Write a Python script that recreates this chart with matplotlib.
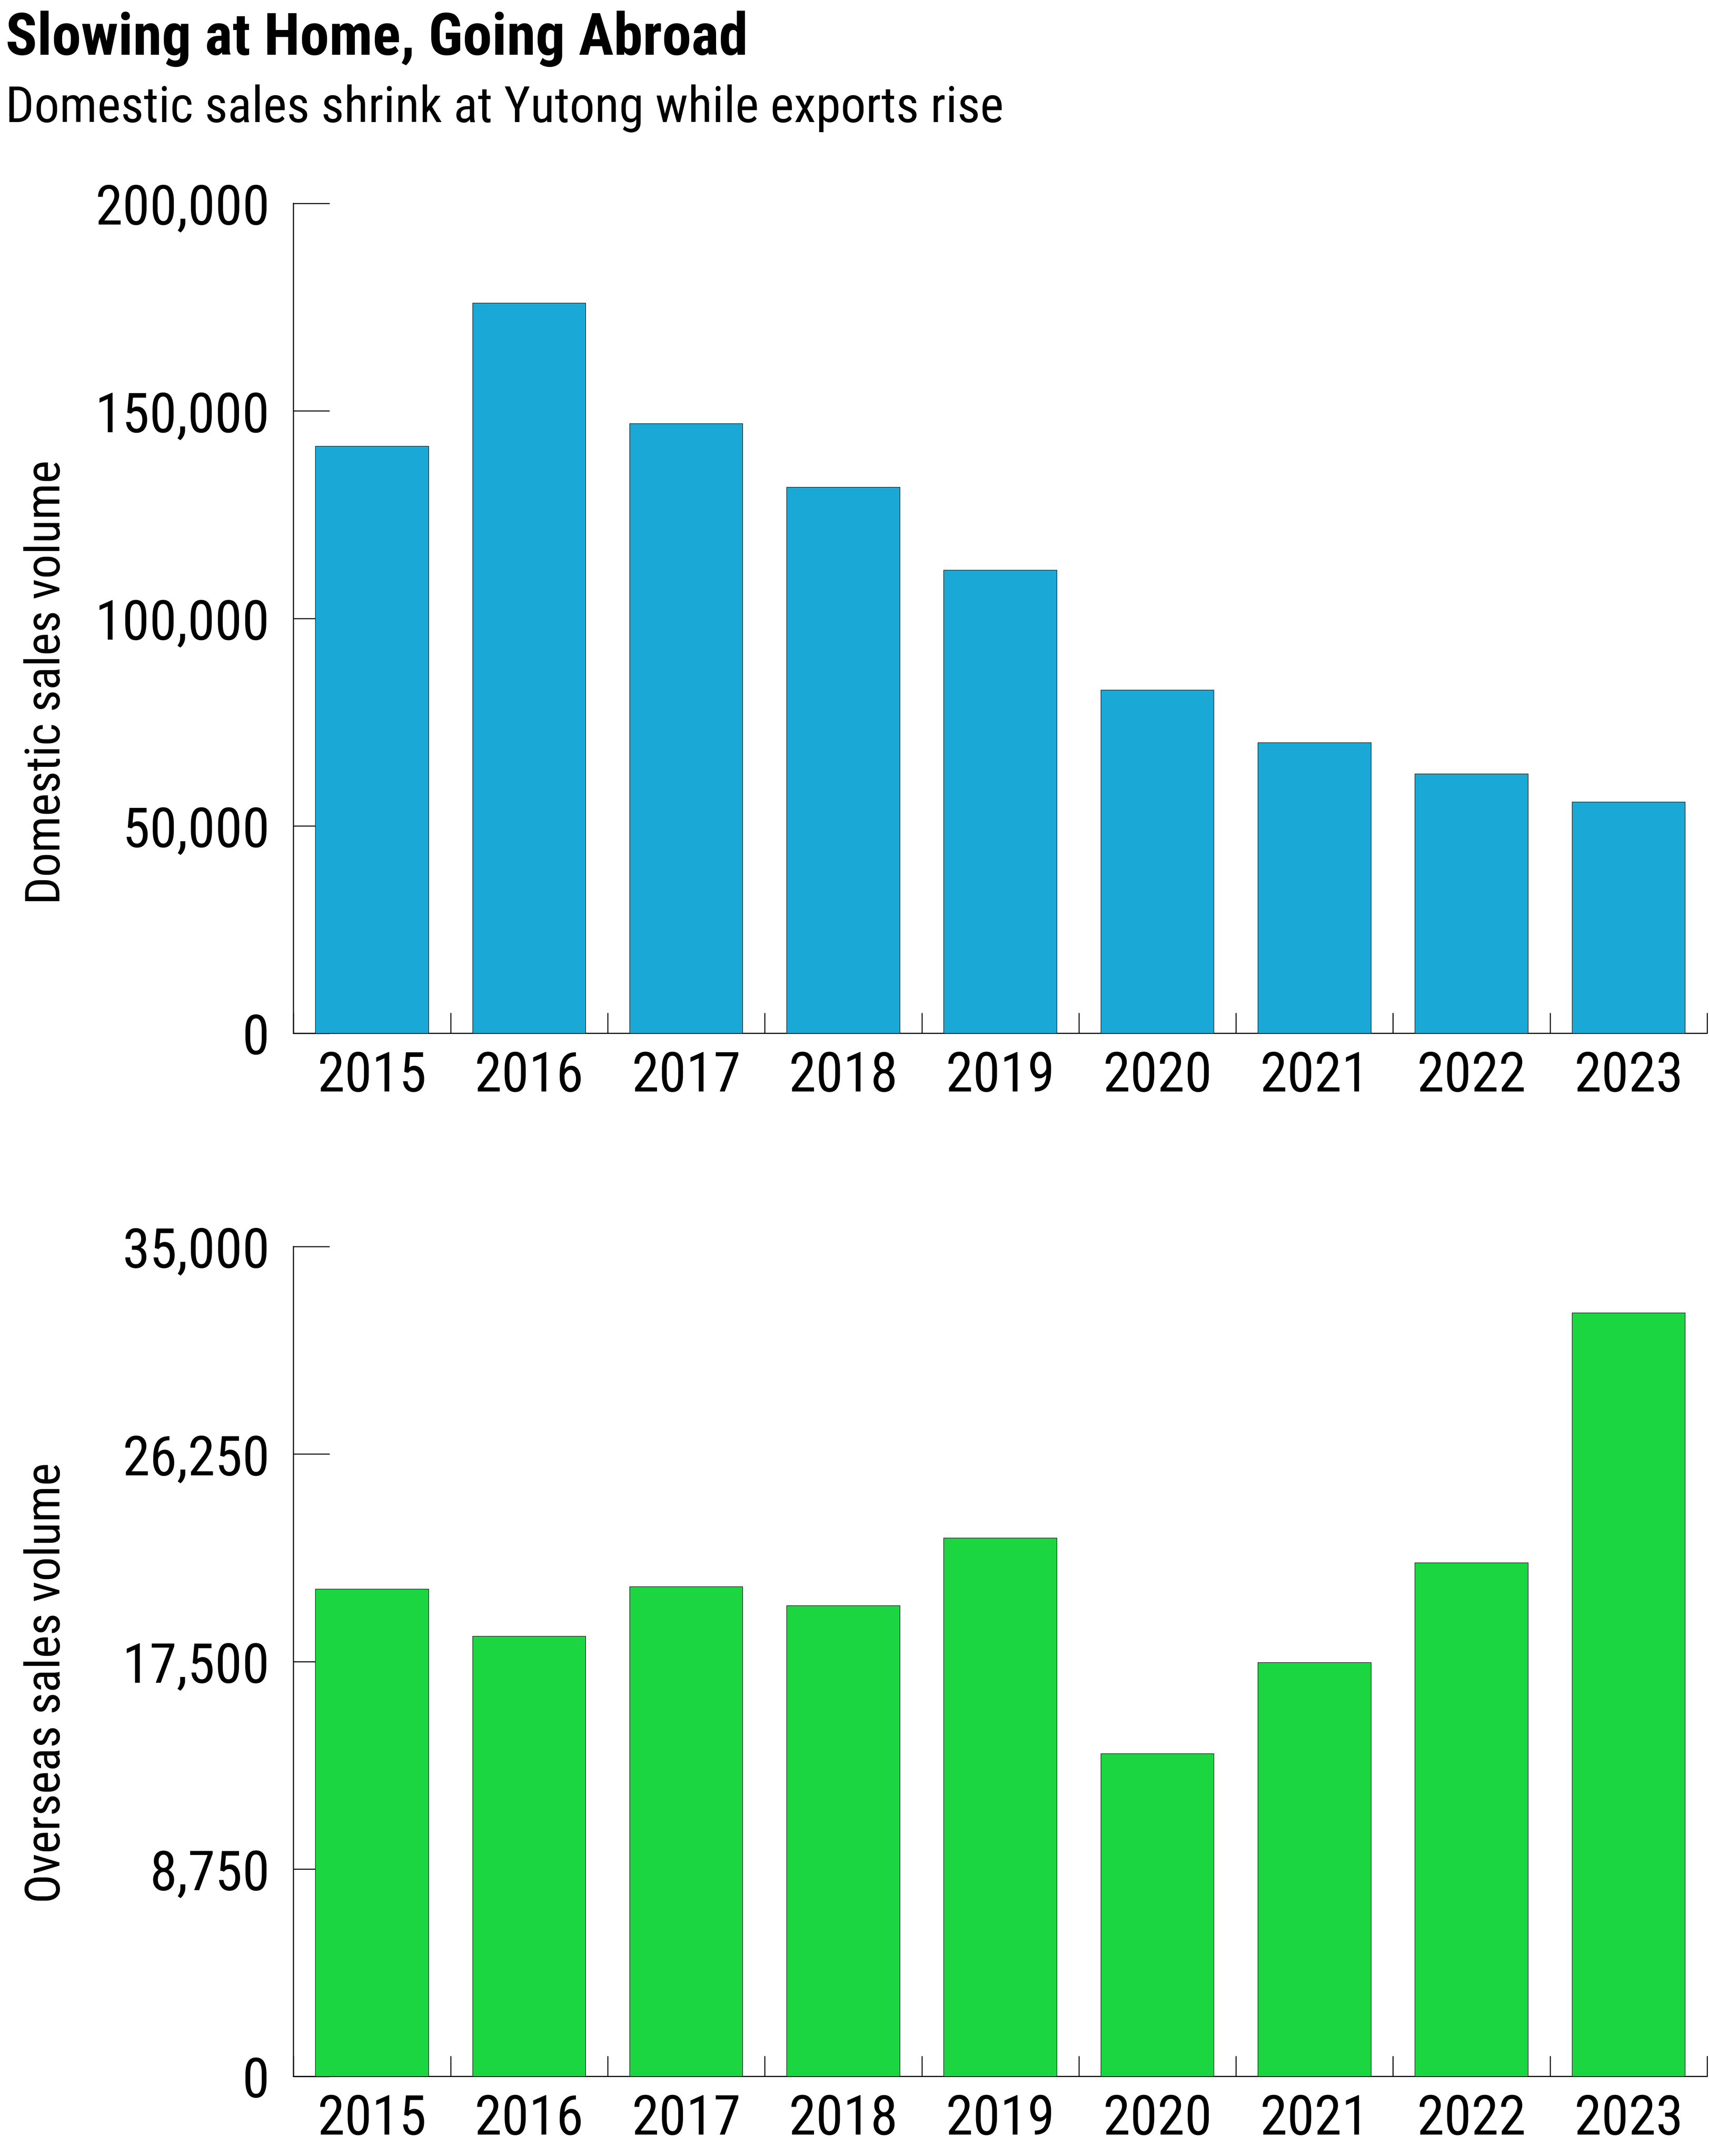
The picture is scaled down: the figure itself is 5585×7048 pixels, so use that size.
import matplotlib
matplotlib.use("Agg")
from matplotlib import pyplot as plt
from matplotlib import font_manager
from matplotlib.ticker import FuncFormatter, FixedLocator

# data
years = ["2015", "2016", "2017", "2018", "2019", "2020", "2021", "2022", "2023"]
domestic = [141500, 176000, 146900, 131600, 111600, 82700, 70000, 62500, 55700]
overseas = [20550, 18570, 20660, 19860, 22710, 13610, 17460, 21660, 32200]
domestic_ticks = [0, 50000, 100000, 150000, 200000]
overseas_ticks = [0, 8750, 17500, 26250, 35000]

title = "Slowing at Home, Going Abroad"
subtitle = "Domestic sales shrink at Yutong while exports rise"

# pick a narrow font if there is one
names = set(f.name for f in font_manager.fontManager.ttflist)
font = "DejaVu Sans"
for cand in ["Liberation Sans Narrow", "Roboto Condensed", "Open Sans Condensed"]:
    if cand in names:
        font = cand
        break
plt.rcParams["font.family"] = [font, "DejaVu Sans"]

# layout measured in reference pixels (5671 x 7156), saved slightly smaller
W, H = 5671, 7156
fig = plt.figure(figsize=(W / 100, H / 100), dpi=100)

left = 974 / W
width = (5664 - 974) / W
axH = (3430 - 676) / H

def draw(ax, values, color, ticks, label, label_y):
    x = list(range(len(values)))
    ax.bar(x, values, width=0.72, color=color, edgecolor="#222222", linewidth=1.4, zorder=3)
    ax.set_xlim(-0.5, len(values) - 0.5)
    ax.set_ylim(0, ticks[-1])
    ax.spines["top"].set_visible(False)
    ax.spines["right"].set_visible(False)
    ax.spines["left"].set_linewidth(2.6)
    ax.spines["bottom"].set_linewidth(2.6)
    ax.xaxis.set_major_locator(FixedLocator([i - 0.5 for i in range(len(values) + 1)]))
    ax.xaxis.set_minor_locator(FixedLocator(x))
    ax.set_xticklabels([], minor=False)
    ax.set_xticklabels(years, minor=True)
    ax.tick_params(axis="x", which="major", direction="in", length=49, width=2.5)
    ax.tick_params(axis="x", which="minor", length=0, pad=40, labelsize=132)
    ax.set_yticks(ticks)
    ax.yaxis.set_major_formatter(FuncFormatter(lambda v, p: "{:,.0f}".format(v)))
    ax.tick_params(axis="y", direction="in", length=86, width=2.5, pad=57, labelsize=132)
    fig.text(198 / W, label_y, label, rotation=90, rotation_mode="anchor",
             ha="center", va="baseline", fontsize=116)

ax1 = fig.add_axes([left, 1 - 3430 / H, width, axH])
draw(ax1, domestic, "#1aa9d6", domestic_ticks, "Domestic sales volume", 1 - 2265 / H)

ax2 = fig.add_axes([left, 1 - 6892 / H, width, axH])
draw(ax2, overseas, "#1cd641", overseas_ticks, "Overseas sales volume", 1 - 5586 / H)

fig.text(18 / W, 1 - 182 / H, title, fontsize=140, fontweight="bold", va="baseline")
fig.text(18 / W, 1 - 405 / H, subtitle, fontsize=120, va="baseline")

fig.savefig("out.png", dpi=98.5, facecolor="white")
